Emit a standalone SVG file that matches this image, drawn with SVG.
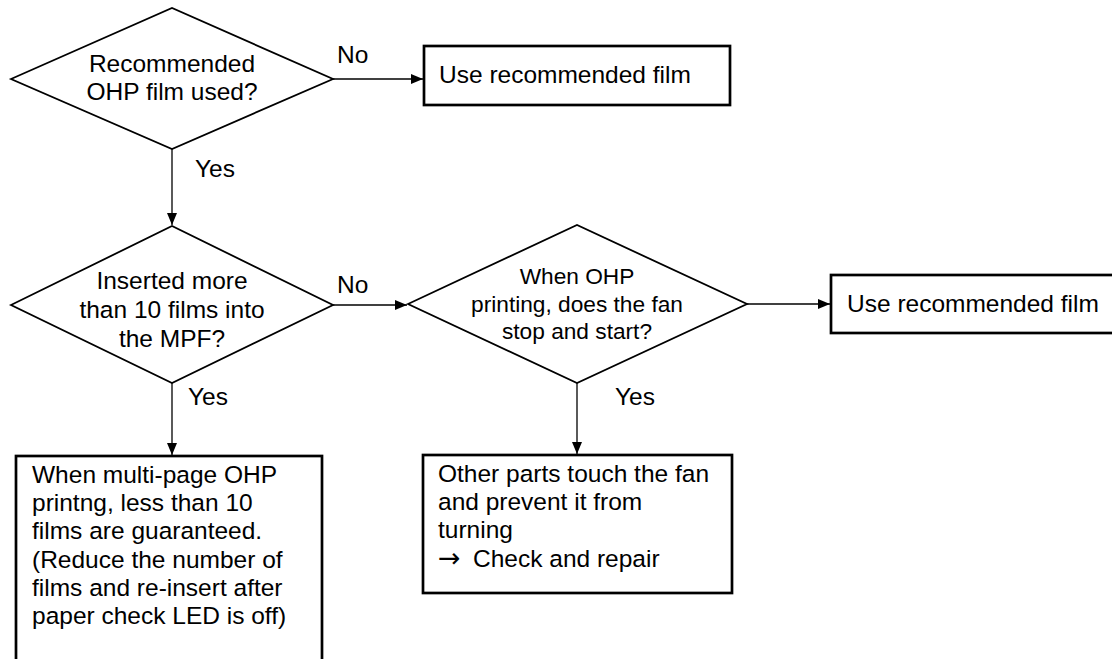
<svg xmlns="http://www.w3.org/2000/svg" width="1112" height="659" viewBox="0 0 1112 659">
<style>
text{font-family:"Liberation Sans",Arial,sans-serif;font-size:24.5px;fill:#000}
.c{text-anchor:middle}
.d3{font-size:22.7px}
.sym{font-family:"DejaVu Sans",sans-serif;font-size:27px}
.dia{fill:#fff;stroke:#000;stroke-width:1.8}
.box{fill:#fff;stroke:#000;stroke-width:2.7}
.conn{fill:none;stroke:#000;stroke-width:1.3;marker-end:url(#ah)}
</style>
<defs>
<marker id="ah" markerUnits="userSpaceOnUse" markerWidth="13" markerHeight="11" refX="12" refY="5" orient="auto">
<path d="M0,0 L12,5 L0,10 z" fill="#000"/>
</marker>
</defs>
<rect width="1112" height="659" fill="#fff"/>
<g id="connectors">
<path class="conn" d="M333,79 H423"/>
<path class="conn" d="M172,149 V225"/>
<path class="conn" d="M333,305 H407"/>
<path class="conn" d="M747,304 H830"/>
<path class="conn" d="M172,383 V455"/>
<path class="conn" d="M577,383 V454"/>
<text x="337" y="63">No</text>
<text x="195" y="177">Yes</text>
<text x="337" y="293">No</text>
<text x="188" y="405">Yes</text>
<text x="615" y="405">Yes</text>
</g>
<g id="d1">
<polygon class="dia" points="11,79 172,8 333,79 172,149"/>
<text class="c" x="172" y="72">Recommended</text>
<text class="c" x="172" y="100">OHP film used?</text>
</g>
<g id="box1">
<rect class="box" x="424" y="46" width="306" height="59"/>
<text x="439" y="83">Use recommended film</text>
</g>
<g id="d2">
<polygon class="dia" points="11,305 172,226 333,305 172,383"/>
<text class="c" x="172" y="289">Inserted more</text>
<text class="c" x="172" y="318">than 10 films into</text>
<text class="c" x="172" y="347">the MPF?</text>
</g>
<g id="d3">
<polygon class="dia" points="408,304 577,225 747,304 577,383"/>
<text class="c d3" x="577" y="284">When OHP</text>
<text class="c d3" x="577" y="312">printing, does the fan</text>
<text class="c d3" x="577" y="339">stop and start?</text>
</g>
<g id="box2">
<rect class="box" x="831" y="275" width="306" height="58"/>
<text x="847" y="312">Use recommended film</text>
</g>
<g id="box3">
<rect class="box" x="16" y="456" width="306" height="230"/>
<text x="32" y="483">When multi-page OHP</text>
<text x="32" y="511">printng, less than 10</text>
<text x="32" y="539">films are guaranteed.</text>
<text x="32" y="568">(Reduce the number of</text>
<text x="32" y="596">films and re-insert after</text>
<text x="32" y="624">paper check LED is off)</text>
</g>
<g id="box4">
<rect class="box" x="423" y="455" width="309" height="138"/>
<text x="438" y="482">Other parts touch the fan</text>
<text x="438" y="510">and prevent it from</text>
<text x="438" y="538">turning</text>
<text x="438" y="567"><tspan class="sym">→</tspan><tspan x="473">Check and repair</tspan></text>
</g>
</svg>
